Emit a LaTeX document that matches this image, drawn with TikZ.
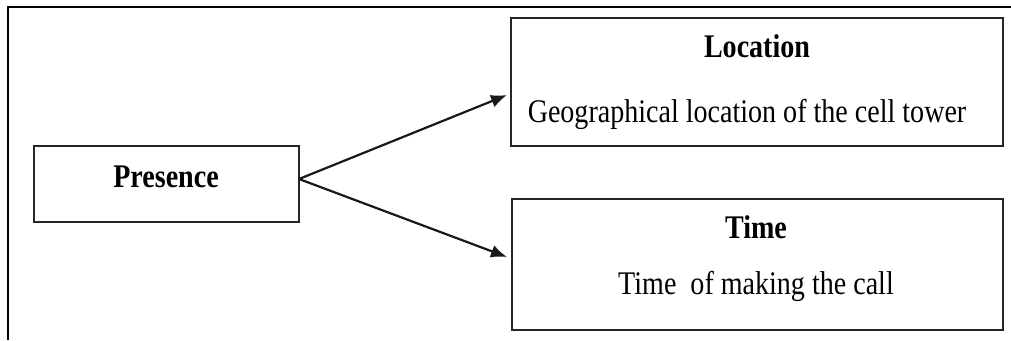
\documentclass[tikz,border=0pt]{standalone}
\usepackage{fontspec}
\setmainfont{Liberation Serif}[FakeStretch=0.85]
\usetikzlibrary{arrows.meta}
\tikzset{
  frame/.style={line width=2pt, black},
  boxstyle/.style={draw=black!85, line width=1.8pt, inner sep=0pt},
  lbl/.style={inner sep=0pt, anchor=base, font=\fontsize{33}{33}\selectfont},
  blbl/.style={lbl, font=\fontsize{33}{33}\selectfont\bfseries},
  conn/.style={line width=2.2pt, black!90, -{Latex[length=16pt,width=13pt]}}
}
\begin{document}
\begin{tikzpicture}[x=1pt,y=-1pt]
\useasboundingbox (0,0) rectangle (1011,340);
\draw[frame] (8,340) -- (8,7) -- (1011,7);
% boxes
\node[boxstyle, minimum width=265pt, minimum height=76pt] (pres) at (166.5,184) {};
\node[boxstyle, minimum width=492pt, minimum height=128pt] (loc) at (757,82) {};
\node[boxstyle, minimum width=491pt, minimum height=131pt] (time) at (757.5,264.5) {};
% texts
\node[blbl] (prest) at (166,187) {Presence};
\node[blbl] (loct) at (757,57) {Location};
\node[lbl] (locd) at (747,122) {Geographical location of the cell tower};
\node[blbl] (timet) at (756,238) {Time};
\node[lbl] (timed) at (756,294) {Time\ \ of making the call};
% connectors
\coordinate (s) at (299,179);
\coordinate (t1) at (507,95);
\coordinate (t2) at (507,257);
\draw[conn] (s) -- (t1);
\draw[conn] (s) -- (t2);
\end{tikzpicture}
\end{document}
